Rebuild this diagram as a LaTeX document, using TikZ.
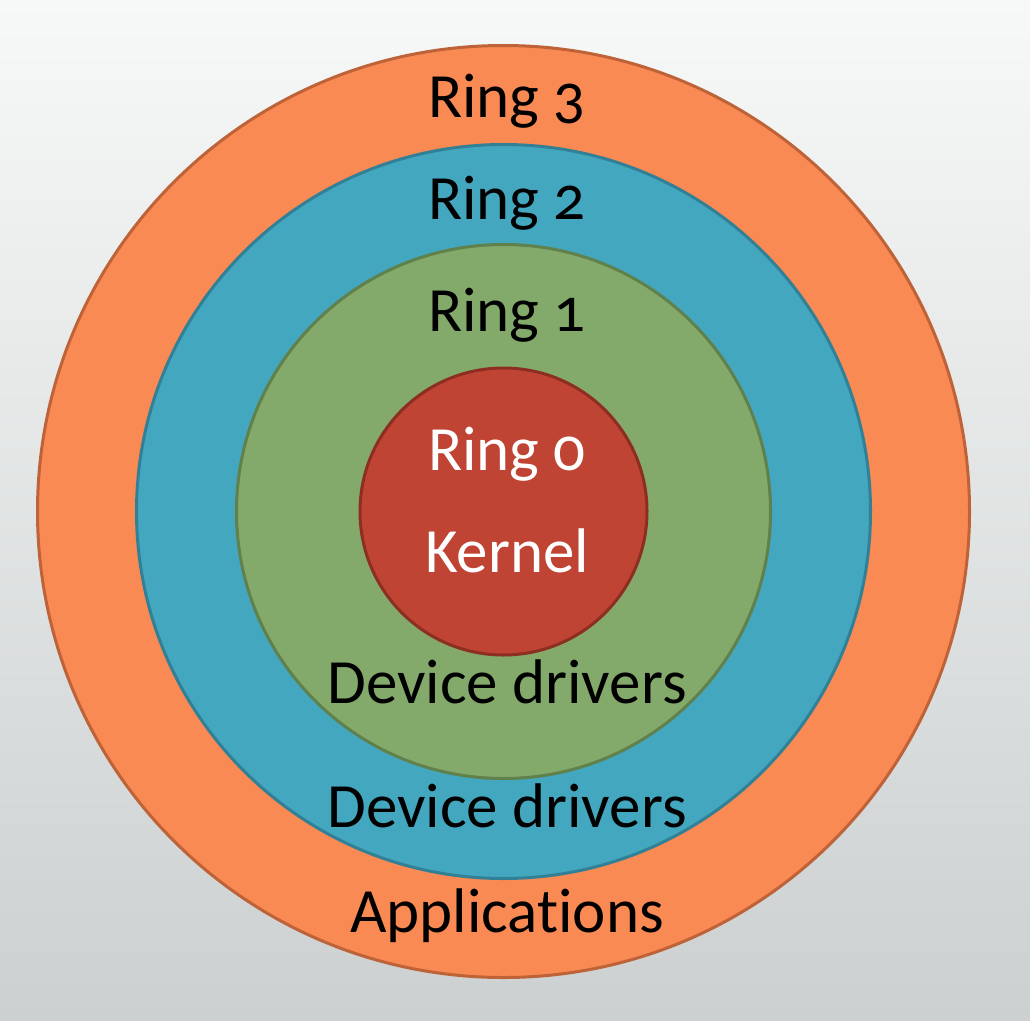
\documentclass[tikz,border=0pt]{standalone}
\usepackage{fontspec}
\setmainfont{Carlito}[Numbers=OldStyle]
\definecolor{bgtop}{RGB}{247,248,248}
\definecolor{bgbot}{RGB}{204,208,208}
\definecolor{orfill}{RGB}{250,138,84}
\definecolor{ordraw}{RGB}{190,98,56}
\definecolor{blfill}{RGB}{67,168,191}
\definecolor{bldraw}{RGB}{49,128,150}
\definecolor{grfill}{RGB}{132,170,107}
\definecolor{grdraw}{RGB}{96,128,76}
\definecolor{rdfill}{RGB}{192,68,52}
\definecolor{rddraw}{RGB}{140,46,34}
\tikzset{
  ring/.style={circle, inner sep=0pt, line width=3pt},
  lbl/.style={anchor=base, inner sep=0pt, font=\fontsize{63}{63}\selectfont},
}
\begin{document}
\begin{tikzpicture}[x=1pt,y=-1pt]
  \useasboundingbox (0,0) rectangle (1030,1020);
  \shade[top color=bgtop, bottom color=bgbot] (0,0) rectangle (1030,1020);
  % concentric privilege rings
  \node[ring, draw=ordraw, fill=orfill, minimum size=932pt] (r3) at (503.5,511.5) {};
  \node[ring, draw=bldraw, fill=blfill, minimum size=734pt] (r2) at (r3.center) {};
  \node[ring, draw=grdraw, fill=grfill, minimum size=534pt] (r1) at (r3.center) {};
  \node[ring, draw=rddraw, fill=rdfill, minimum size=287pt] (r0) at (r3.center) {};
  % labels
  \node[lbl] (t3) at (507,117) {Ring 3};
  \node[lbl] (t2) at (507,219) {Ring 2};
  \node[lbl] (t1) at (507,331) {Ring 1};
  \node[lbl, text=white] (t0) at (507,470) {Ring 0};
  \node[lbl, text=white] (k) at (507,572) {Kernel};
  \node[lbl] (d1) at (507,703) {Device drivers};
  \node[lbl] (d2) at (507,827) {Device drivers};
  \node[lbl] (app) at (507,932) {Applicat\kern0pt ions};
\end{tikzpicture}
\end{document}
